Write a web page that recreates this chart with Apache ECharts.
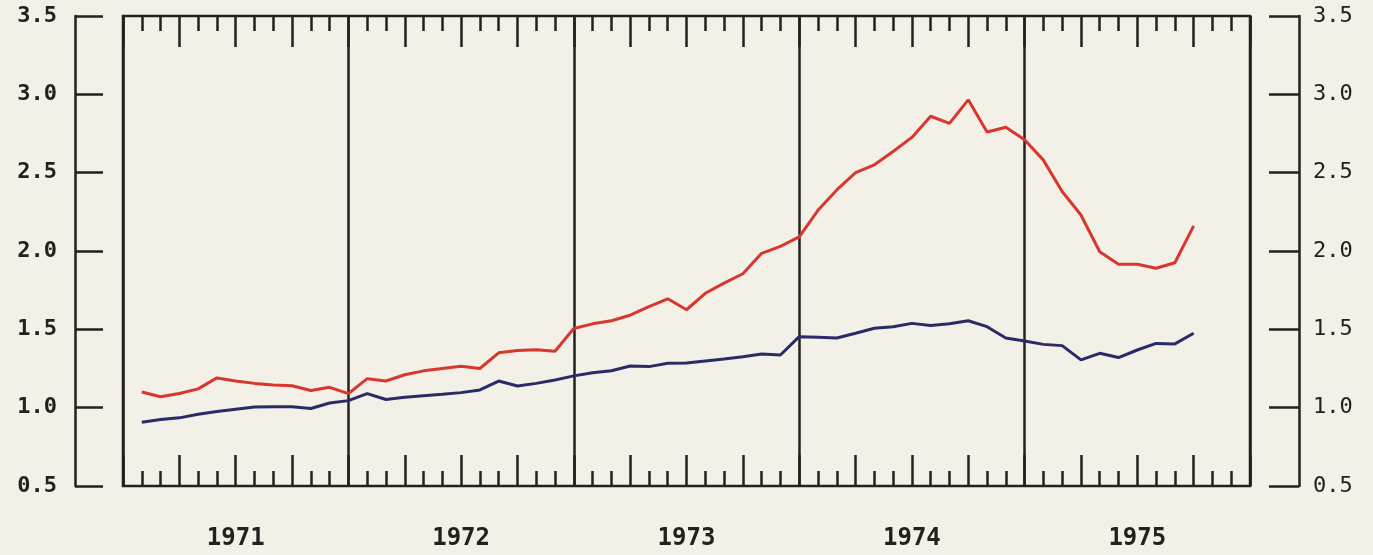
<!DOCTYPE html>
<html>
<head>
<meta charset="utf-8">
<script src="https://cdn.jsdelivr.net/npm/echarts@6/dist/echarts.min.js"></script>
<style>
  html, body { margin: 0; padding: 0; background: #f2f0e7; }
  #chart { width: 1373px; height: 555px; }
</style>
</head>
<body>
<div id="chart"></div>
<script>
// months counted from Jan 1971 (0 = start of 1971)
const firstMonth = 1
const years = ['1971', '1972', '1973', '1974', '1975']

const redSeries = [
  1.10, 1.07, 1.09, 1.12, 1.19, 1.17, 1.155, 1.145, 1.14, 1.11, 1.13, 1.09,
  1.185, 1.17, 1.21, 1.235, 1.25, 1.265, 1.25, 1.35, 1.365, 1.37, 1.36, 1.505,
  1.535, 1.555, 1.59, 1.645, 1.695, 1.625, 1.73, 1.795, 1.855, 1.985, 2.03, 2.09,
  2.26, 2.39, 2.50, 2.55, 2.635, 2.725, 2.86, 2.815, 2.965, 2.76, 2.79, 2.71,
  2.58, 2.38, 2.23, 1.995, 1.915, 1.915, 1.89, 1.925, 2.16
]

const blueSeries = [
  0.907, 0.925, 0.935, 0.958, 0.975, 0.99, 1.004, 1.006, 1.006, 0.995, 1.03, 1.045,
  1.09, 1.052, 1.066, 1.076, 1.085, 1.096, 1.113, 1.17, 1.138, 1.155, 1.177, 1.203,
  1.223, 1.236, 1.266, 1.262, 1.283, 1.285, 1.298, 1.311, 1.325, 1.343, 1.336, 1.453,
  1.449, 1.445, 1.475, 1.507, 1.517, 1.538, 1.525, 1.535, 1.555, 1.517, 1.445, 1.425,
  1.404, 1.396, 1.305, 1.347, 1.32, 1.368, 1.41, 1.407, 1.475
]

const ink = '#24201f'
const chart = echarts.init(document.getElementById('chart'), null, { renderer: 'canvas' })

const toPairs = arr => arr.map((v, i) => [firstMonth + i, v])

const monthAxis = (pos) => ({
  type: 'value',
  position: pos,
  min: 0,
  max: 60,
  interval: 3,
  axisLine: { show: false, onZero: false },
  axisLabel: { show: false },
  splitLine: { show: false },
  axisTick: { show: true, inside: true, length: 31, lineStyle: { color: ink, width: 2.5 } },
  minorTick: { show: true, splitNumber: 3, length: 15, lineStyle: { color: ink, width: 2.5 } }
})

const valueAxis = (pos, offset, tickLen, margin, weight) => ({
  type: 'value',
  position: pos,
  offset: offset,
  min: 0.5,
  max: 3.5,
  interval: 0.5,
  axisLine: { show: true, onZero: false, lineStyle: { color: ink, width: 2.5 } },
  axisTick: { show: true, inside: true, length: tickLen, lineStyle: { color: ink, width: 2.5 } },
  splitLine: { show: false },
  axisLabel: {
    margin: margin,
    color: ink,
    fontFamily: 'DejaVu Sans Mono',
    fontWeight: weight,
    fontSize: 22,
    formatter: v => v.toFixed(1)
  }
})

const option = {
  backgroundColor: '#f2f0e7',
  animation: false,
  grid: {
    left: 123,
    right: 123,
    top: 16,
    bottom: 69,
    show: true,
    borderColor: ink,
    borderWidth: 2.5,
    backgroundColor: 'transparent'
  },
  xAxis: [
    monthAxis('bottom'),
    monthAxis('top'),
    {
      type: 'value',
      position: 'bottom',
      min: 0,
      max: 60,
      interval: 12,
      axisLine: { show: false, onZero: false },
      axisTick: { show: false },
      axisLabel: { show: false },
      splitLine: { show: true, lineStyle: { color: ink, width: 2.5 } }
    },
    {
      type: 'category',
      position: 'bottom',
      data: years,
      boundaryGap: true,
      axisLine: { show: false, onZero: false },
      axisTick: { show: false },
      axisLabel: {
        margin: 41,
        color: ink,
        fontFamily: 'DejaVu Sans Mono',
        fontWeight: 'bold',
        fontSize: 24
      }
    }
  ],
  yAxis: [
    valueAxis('left', 48, 28, 18, 'bold'),
    valueAxis('right', 49, 30, 14, 'normal')
  ],
  series: [
    {
      name: 'red',
      type: 'line',
      xAxisIndex: 0,
      yAxisIndex: 0,
      data: toPairs(redSeries),
      symbol: 'none',
      lineStyle: { color: '#d8372e', width: 3 }
    },
    {
      name: 'blue',
      type: 'line',
      xAxisIndex: 0,
      yAxisIndex: 0,
      data: toPairs(blueSeries),
      symbol: 'none',
      lineStyle: { color: '#2c2a66', width: 3 }
    }
  ]
}

chart.setOption(option)
</script>
</body>
</html>
